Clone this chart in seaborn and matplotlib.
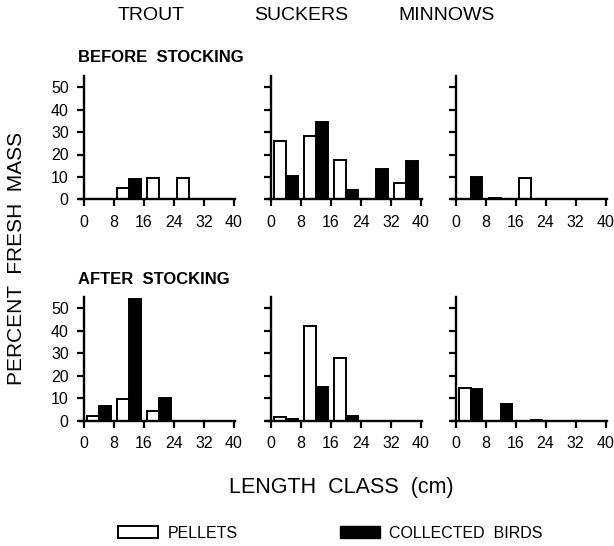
import numpy as np
import pandas as pd
import matplotlib
matplotlib.use("Agg")
import matplotlib.pyplot as plt
from matplotlib.patches import Patch
import seaborn as sns

# length classes (cm), centre of each 8-cm class
length_class = [4, 12, 20, 28, 36]
fish = ["TROUT", "SUCKERS", "MINNOWS"]
periods = ["BEFORE  STOCKING", "AFTER  STOCKING"]

# percent fresh mass
before_pellets = {
    "TROUT": [0.2, 5.0, 9.7, 9.5, 0],
    "SUCKERS": [26.0, 28.4, 17.7, 0, 7.3],
    "MINNOWS": [0, 0.4, 9.5, 0.3, 0],
}
before_birds = {
    "TROUT": [0.2, 8.9, 0.3, 0, 0],
    "SUCKERS": [10.6, 34.5, 4.0, 13.5, 17.3],
    "MINNOWS": [10.0, 0.3, 0, 0, 0],
}
after_pellets = {
    "TROUT": [2.1, 9.6, 4.3, 0, 0],
    "SUCKERS": [1.9, 42.0, 28.0, 0, 0],
    "MINNOWS": [14.6, 0, 0, 0, 0],
}
after_birds = {
    "TROUT": [6.8, 54.0, 10.0, 0, 0],
    "SUCKERS": [0.8, 15.1, 2.4, 0, 0],
    "MINNOWS": [14.0, 7.5, 0.3, 0, 0],
}

rows = []
for period, pel, bir in [(periods[0], before_pellets, before_birds),
                         (periods[1], after_pellets, after_birds)]:
    for f in fish:
        for c, p, b in zip(length_class, pel[f], bir[f]):
            rows.append((period, f, c, "PELLETS", p))
            rows.append((period, f, c, "COLLECTED BIRDS", b))
df = pd.DataFrame(rows, columns=["period", "fish", "length", "source", "mass"])

sns.set_theme(style="ticks")
plt.rcParams["font.family"] = ["Liberation Sans", "DejaVu Sans"]
plt.rcParams["text.color"] = "black"

W, H = 614, 546
fig = plt.figure(figsize=(W / 100, H / 100), dpi=100)

x0_px = [84, 271, 455.5]
row_px = [(199.3, 2.24), (421, 2.26)]
xscale = 150 / 40
pal = {"PELLETS": "white", "COLLECTED BIRDS": "black"}

for r, period in enumerate(periods):
    ybot, ys = row_px[r]
    for c, f in enumerate(fish):
        left = x0_px[c] - 1 * xscale
        right = x0_px[c] + 40.3 * xscale
        top = ybot - 55 * ys
        ax = fig.add_axes([left / W, 1 - ybot / H, (right - left) / W, (ybot - top) / H])
        sub = df[(df.period == period) & (df.fish == f)]
        sns.barplot(data=sub, x="length", y="mass", hue="source",
                    hue_order=["PELLETS", "COLLECTED BIRDS"], palette=pal,
                    native_scale=True, width=0.775, dodge=True, errorbar=None,
                    edgecolor="black", linewidth=1.4, legend=False, ax=ax)
        ax.set_xlim(-1, 40.3)
        ax.set_ylim(0, 55)
        ax.set_xticks([0, 8, 16, 24, 32, 40])
        ax.set_yticks([0, 10, 20, 30, 40, 50])
        sns.despine(ax=ax)
        ax.spines["left"].set_position(("data", 0))
        for s in ["left", "bottom"]:
            ax.spines[s].set_linewidth(1.7)
            ax.spines[s].set_color("black")
        ax.tick_params(axis="both", direction="out", length=5, width=1.6,
                       labelsize=11.5, colors="black", pad=6)
        ax.set_xlabel("")
        ax.set_ylabel("")
        if c > 0:
            ax.set_yticklabels([])
        ax.patch.set_alpha(0)

# column titles
for name, cx in zip(fish, [151, 301, 447]):
    fig.text(cx / W, 1 - 15 / H, name, ha="center", va="center", fontsize=14)

fig.text(78 / W, 1 - 58 / H, periods[0], ha="left", va="center",
         fontsize=12, fontweight="bold")
fig.text(78 / W, 1 - 279 / H, periods[1], ha="left", va="center",
         fontsize=12, fontweight="bold")

fig.text(17 / W, 1 - 258 / H, "PERCENT  FRESH  MASS", rotation=90,
         ha="center", va="center", fontsize=15)
fig.text(341 / W, 1 - 488 / H, "LENGTH  CLASS  (cm)", ha="center",
         va="center", fontsize=15.5)

handles = [Patch(facecolor="white", edgecolor="black", linewidth=1.4, label="PELLETS"),
           Patch(facecolor="black", edgecolor="black", label="COLLECTED  BIRDS")]
fig.legend(handles=handles, loc="center left", bbox_to_anchor=(118 / W, 1 - 533 / H),
           ncol=2, frameon=False, fontsize=11.5, handlelength=2.5,
           handleheight=0.7, handletextpad=0.6, columnspacing=6.4,
           borderaxespad=0, borderpad=0)

fig.savefig("out.png", dpi=100)
